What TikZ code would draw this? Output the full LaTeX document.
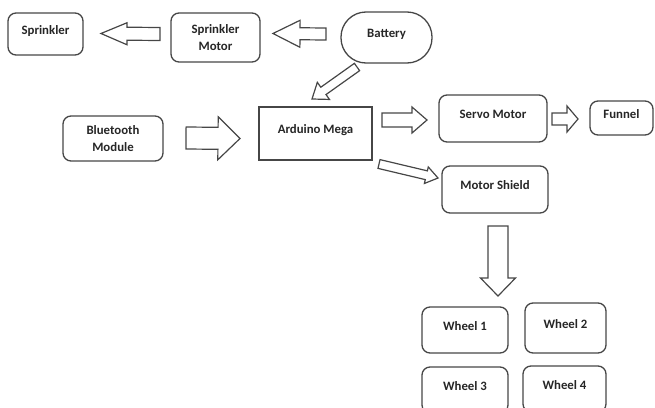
\documentclass[tikz,border=0pt]{standalone}
\usepackage{fontspec}
\setmainfont{Carlito}
\usetikzlibrary{calc}
\definecolor{edge}{RGB}{70,70,70}
\tikzset{rbox/.style={draw=edge, line width=1.3pt, rounded corners=8pt, align=center, inner sep=0pt, text=black!85,
  font=\fontsize{12.8}{17}\selectfont\bfseries}}
\tikzset{sbox/.style={rbox, rounded corners=0pt}}
\tikzset{lift/.style={text depth=8pt}}
\tikzset{blk/.style={draw=edge, line width=1.2pt, line join=miter}}
% block arrow: tail, tip, shaft half width, head half width, head length
\newcommand{\barrow}[5]{%
  \coordinate (hb) at ($(#2)!#5pt!(#1)$);
  \draw[blk] ($(#1)!#3pt!90:(#2)$) -- ($(hb)!#3pt!90:(#2)$) -- ($(hb)!#4pt!90:(#2)$) -- (#2)
    -- ($(hb)!#4pt!-90:(#2)$) -- ($(hb)!#3pt!-90:(#2)$) -- ($(#1)!#3pt!-90:(#2)$) -- cycle;
}

\begin{document}
\begin{tikzpicture}[x=1pt,y=-1pt]
\useasboundingbox (0,0) rectangle (655,407);
\clip (0,0) rectangle (655,407);

\node[rbox, lift, minimum width=75pt, minimum height=42pt] (spr) at (45.5,34) {Sprinkler};
\node[rbox, minimum width=89pt, minimum height=49pt] (smot) at (215.5,37.5) {Sprinkler\\Motor};
\node[rbox, lift, rounded corners=25pt, minimum width=91pt, minimum height=51pt] (bat) at (386.5,37.5) {Battery};
\node[sbox, lift, minimum width=113pt, minimum height=53pt] (ard) at (315.5,133.5) {Arduino Mega};
\node[rbox, minimum width=100pt, minimum height=45pt] (blue) at (113,138.5) {Bluetooth\\Module};
\node[rbox, lift, minimum width=108pt, minimum height=47pt] (servo) at (493,118.5) {Servo Motor};
\node[rbox, lift, minimum width=63pt, minimum height=34pt] (fun) at (621.5,118) {Funnel};
\node[rbox, lift, minimum width=106pt, minimum height=47pt] (msh) at (495,189.5) {Motor Shield};
\node[rbox, lift, minimum width=86pt, minimum height=46pt] (w1) at (465,330) {Wheel 1};
\node[rbox, lift, minimum width=81pt, minimum height=50pt] (w2) at (565.5,328) {Wheel 2};
\node[rbox, lift, minimum width=86pt, minimum height=46pt] (w3) at (465,390) {Wheel 3};
\node[rbox, lift, minimum width=83pt, minimum height=46pt] (w4) at (564.5,389) {Wheel 4};

% arrow ends
\coordinate (t1) at (160,34);  \coordinate (h1) at (101,33.5);
\coordinate (t2) at (326,34);  \coordinate (h2) at (273,33.5);
\coordinate (t3) at (357,67);  \coordinate (h3) at (312,99);
\coordinate (t4) at (186,138); \coordinate (h4) at (240,138.5);
\coordinate (t5) at (382,120); \coordinate (h5) at (427,120);
\coordinate (t6) at (552,119); \coordinate (h6) at (578,119);
\coordinate (t7) at (379,164); \coordinate (h7) at (438,178);
\coordinate (t8) at (498,226); \coordinate (h8) at (498,296);

\barrow{t1}{h1}{6.5}{11}{26}
\barrow{t2}{h2}{6}{13.5}{27}
\barrow{t3}{h3}{4.5}{10.5}{14}
\barrow{t4}{h4}{11}{21.5}{22}
\barrow{t5}{h5}{7}{13}{15}
\barrow{t6}{h6}{6}{13}{11}
\barrow{t7}{h7}{4.5}{8.5}{12}
\barrow{t8}{h8}{10}{17.5}{18}
\end{tikzpicture}
\end{document}
